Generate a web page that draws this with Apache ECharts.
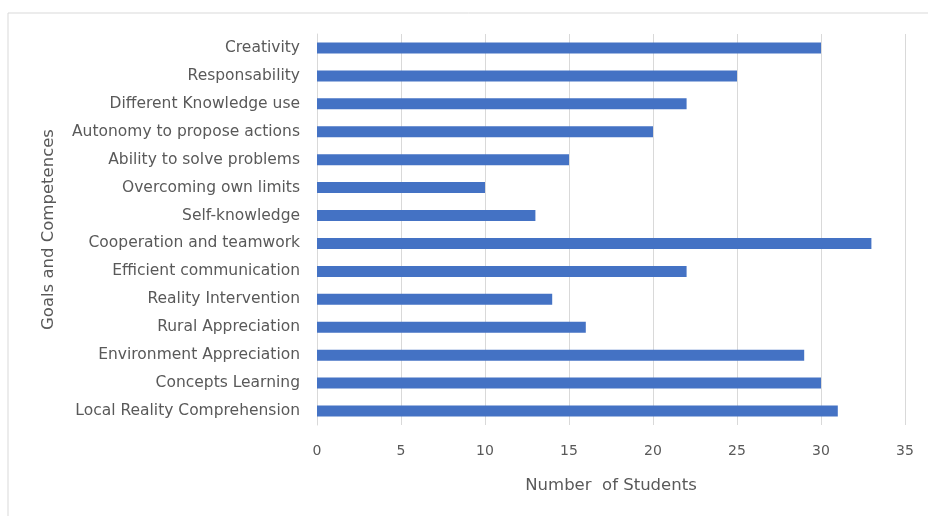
<!DOCTYPE html>
<html><head><meta charset="utf-8">
<script src="https://cdn.jsdelivr.net/npm/echarts@6/dist/echarts.min.js"></script>
<style>html,body{margin:0;padding:0;background:#fff}#c{width:928px;height:516px}</style>
</head><body><div id="c"></div>
<script>
const categories = ["Local Reality Comprehension","Concepts Learning","Environment Appreciation","Rural Appreciation","Reality Intervention","Efficient communication","Cooperation and teamwork","Self-knowledge","Overcoming own limits","Ability to solve problems","Autonomy to propose actions","Different Knowledge use","Responsability","Creativity"];
const values = [31,30,29,16,14,22,33,13,10,15,20,22,25,30];
const xTicks = {min:0, max:35, interval:5};
const chart = echarts.init(document.getElementById('c'));
const font = "'DejaVu Sans', sans-serif";
chart.setOption({
  animation:false,
  graphic:[{type:'rect',shape:{x:8,y:13,width:940,height:520},style:{fill:'none',stroke:'#d9d9d9',lineWidth:1}}],
  grid:{left:317,right:23,top:34,bottom:91},
  xAxis:{type:'value',min:xTicks.min,max:xTicks.max,interval:xTicks.interval,
    name:'Number  of Students',nameLocation:'middle',nameGap:52,
    nameTextStyle:{color:'#595959',fontSize:16.5,fontFamily:font},
    axisLabel:{color:'#595959',fontSize:14,fontFamily:font,margin:19},
    axisLine:{show:false},axisTick:{show:false},
    splitLine:{lineStyle:{color:'#d9d9d9'}}},
  yAxis:{type:'category',data:categories,
    name:'Goals and Competences',nameLocation:'middle',nameGap:260,
    nameTextStyle:{color:'#595959',fontSize:16.5,fontFamily:font},
    axisLabel:{color:'#595959',fontSize:15.5,fontFamily:font,margin:17},
    axisLine:{lineStyle:{color:'#d9d9d9'}},axisTick:{show:false}},
  series:[{type:'bar',data:values,barWidth:11,itemStyle:{color:'#4472c4'}}]
});
</script></body></html>
